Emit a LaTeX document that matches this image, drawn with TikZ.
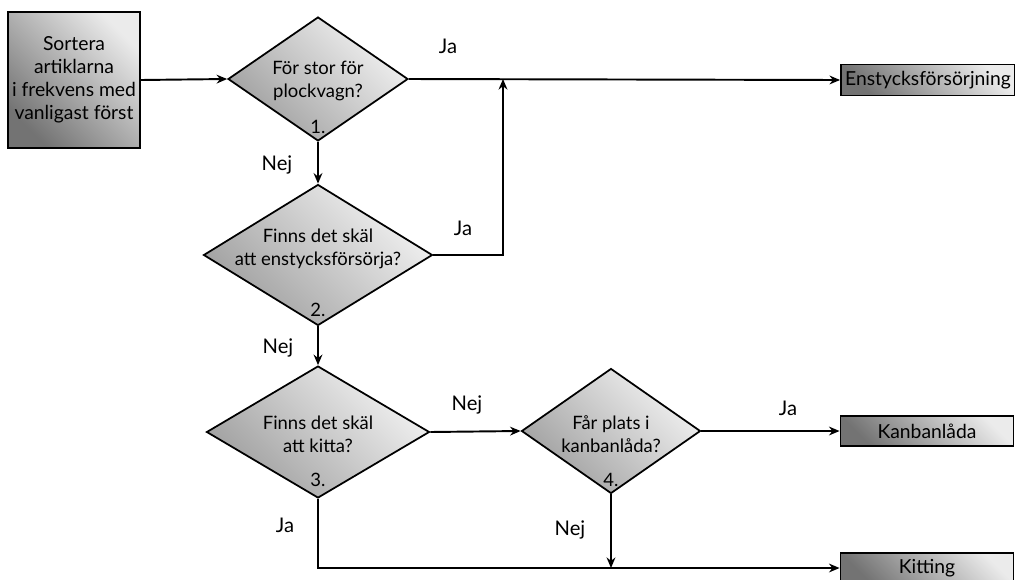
\documentclass[tikz,border=0pt]{standalone}
\usepackage{fontspec}
\setmainfont{Lato}
\usetikzlibrary{shapes.geometric,arrows.meta,positioning}

\begin{document}
\begin{tikzpicture}[x=0.02cm,y=-0.02cm,
  font=\fontsize{11.5}{13}\selectfont,
  box/.style={draw,line width=1.1pt,top color=black!8,bottom color=black!55,shading angle=-45,align=center,inner sep=0pt,font=\fontsize{11}{13}\selectfont},
  choice/.style={diamond,draw,line width=1pt,top color=black!5,bottom color=black!38,shading angle=-45,inner sep=0pt,aspect=1.4},
  qtext/.style={align=center,inner sep=0pt,font=\fontsize{10.5}{13}\selectfont},
  arr/.style={line width=1.1pt,-{Stealth[length=6pt,width=5pt]}}]
\useasboundingbox (0,0) rectangle (1015,579);

\node[box, minimum width=2.64cm, minimum height=2.72cm] (sort) at (74,80) {Sortera\\artiklarna\\i frekvens med\\vanligast först};

\node[choice, minimum width=3.6cm, minimum height=2.48cm] (q1) at (318,79) {};
\node[qtext] (t1) at (318,81) {För stor för\\plockvagn?};
\node[qtext] (n1) at (318,127) {1.};

\node[choice, minimum width=4.58cm, minimum height=2.82cm] (q2) at (318,255) {};
\node[qtext] (t2) at (318,249) {Finns det skäl\\att enstycksförsörja?};
\node[qtext] (n2) at (318,310) {2.};

\node[choice, minimum width=4.46cm, minimum height=2.64cm] (q3) at (318,432) {};
\node[qtext] (t3) at (318,434) {Finns det skäl\\att kitta?};
\node[qtext] (n3) at (318,480) {3.};

\node[choice, minimum width=3.58cm, minimum height=2.5cm] (q4) at (611,431) {};
\node[qtext] (t4) at (611,434) {Får plats i\\kanbanlåda?};
\node[qtext] (n4) at (611,480) {4.};

\node[box, minimum width=3.48cm, minimum height=0.62cm] (enst) at (928,80) {Enstycksförsörjning};
\node[box, minimum width=3.46cm, minimum height=0.6cm] (kanban) at (927,431) {Kanbanlåda};
\node[box, minimum width=3.46cm, minimum height=0.6cm] (kit) at (927,568) {Kitting};

\coordinate (j1) at (503,79);
\coordinate (j2) at (611,568);

\draw[arr] (sort.east) -- (q1.west);
\draw[arr] (q1.east) -- (enst.west);
\draw[arr] (q1.south) -- (q2.north);
\draw[arr] (q2.east) -| (j1);
\draw[arr] (q2.south) -- (q3.north);
\draw[arr] (q3.east) -- (q4.west);
\draw[arr] (q4.east) -- (kanban.west);
\draw[arr] (q3.south) |- (kit.west);
\draw[arr] (q4.south) -- (j2);

\node (ja1) at (448,46) {Ja};
\node (nej1) at (277,165) {Nej};
\node (ja2) at (463,228) {Ja};
\node (nej2) at (278,348) {Nej};
\node (nej3) at (467,405) {Nej};
\node (ja3) at (788,408) {Ja};
\node (ja4) at (285,525) {Ja};
\node (nej4) at (570,530) {Nej};
\end{tikzpicture}
\end{document}
